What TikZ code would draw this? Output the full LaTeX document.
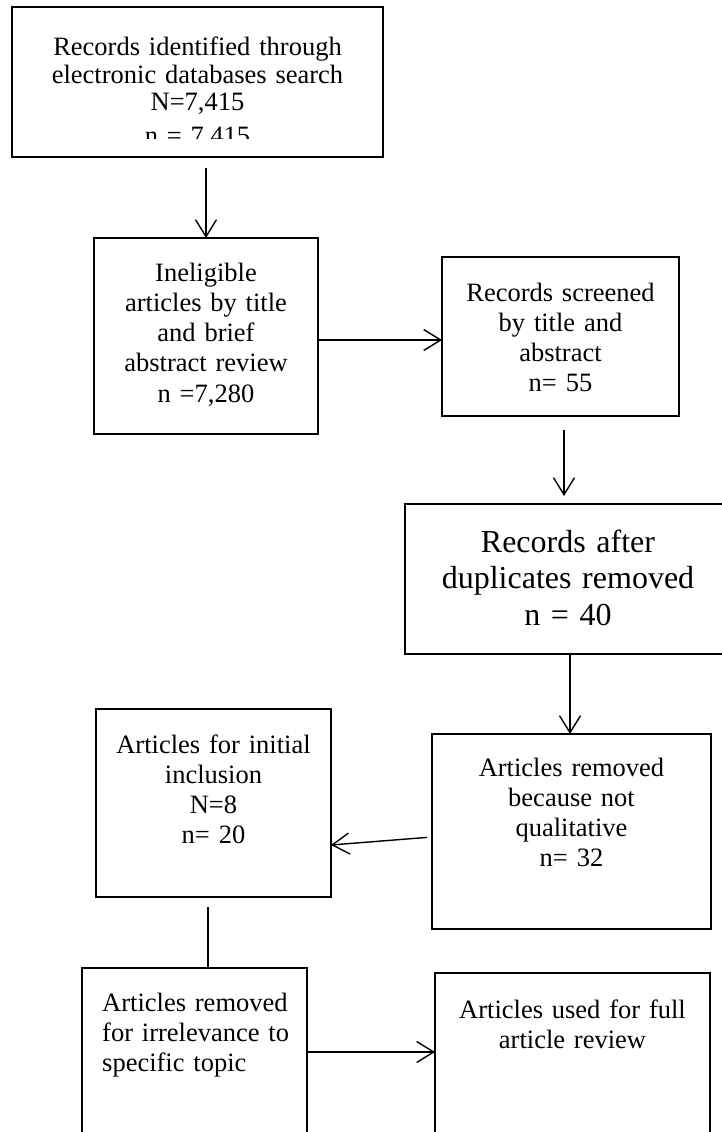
\documentclass[tikz,border=0pt]{standalone}
\usepackage{fontspec}
\setmainfont{Liberation Serif}
\usetikzlibrary{arrows.meta}

\tikzset{
  box/.style={draw, line width=1.8pt, inner sep=0pt, outer sep=0pt},
  txt/.style={font=\fontsize{26.5}{30.3}\selectfont, align=center, inner sep=0pt, anchor=base},
  arr/.style={line width=1.4pt, -{Straight Barb[length=17pt, width=21pt]}},
}

\begin{document}
\begin{tikzpicture}[x=1pt, y=-1pt]
  \useasboundingbox (0,0) rectangle (722,1132);
  \clip (0,0) rectangle (722,1132);
  % boxes
  \node[box, minimum width=371pt, minimum height=150pt] (recs) at (197.5,82) {};
  \node[box, minimum width=224pt, minimum height=196pt] (inelig) at (206,336) {};
  \node[box, minimum width=237pt, minimum height=159pt] (screen) at (560.5,336.5) {};
  \node[box, minimum width=326pt, minimum height=150pt] (dupl) at (568,579) {};
  \node[box, minimum width=279pt, minimum height=195pt] (qual) at (571.5,831.5) {};
  \node[box, minimum width=235pt, minimum height=188pt] (incl) at (213.5,803) {};
  \node[box, minimum width=225pt, minimum height=192pt] (irrel) at (194.5,1064) {};  % runs off the page
  \node[box, minimum width=275pt, minimum height=187pt] (full) at (572.5,1066.5) {};  % runs off the page
  % texts
  \node[txt, text width=350pt, font=\fontsize{26.5}{27.3}\selectfont] (recstxt) at (197.5,56)
    {Records identified through\\electronic databases search\\N=7,415};
  \begin{scope}
    \clip (12,7) rectangle (383,138);  % last line only half shown
    \node[txt, text width=350pt] (recsn) at (197.5,144) {n = 7,415};
  \end{scope}
  \node[txt, text width=215pt] (ineligtxt) at (206,281)
    {Ineligible\\articles by title\\and brief\\abstract review\\n =7,280};
  \node[txt, text width=225pt] (screentxt) at (560.5,301)
    {Records screened\\by title and\\abstract\\n= 55};
  \node[txt, text width=315pt, font=\fontsize{32}{36.5}\selectfont] (dupltxt) at (568,552)
    {Records after\\duplicates removed\\n = 40};
  \node[txt, text width=270pt] (qualtxt) at (571.5,776)
    {Articles removed\\because not\\qualitative\\n= 32};
  \node[txt, text width=225pt] (incltxt) at (213.5,753)
    {Articles for initial\\inclusion\\N=8\\n= 20};
  \node[txt, text width=200pt, align=left, anchor=base west] (irreltxt) at (102,1011)
    {Articles removed\\for irrelevance to\\specific topic};
  \node[txt, text width=265pt] (fulltxt) at (572.5,1018)
    {Articles used for full\\article review};
  % connectors
  \draw[arr, shorten <=11pt] (recs.south -| inelig.north) -- (inelig.north);
  \draw[arr] ([yshift=-4pt]inelig.east) -- ([yshift=-4pt]inelig.east -| screen.west);
  \draw[arr, shorten <=14pt, shorten >=8pt] ([xshift=3.5pt]screen.south) -- ([xshift=3.5pt]screen.south |- dupl.north);
  \draw[arr] ([xshift=2pt]dupl.south) -- ([xshift=2pt]dupl.south |- qual.north);
  \draw[arr, shorten <=5pt] ([yshift=-5.5pt]qual.west) -- ([yshift=-42pt]incl.east);
  \draw[line width=1.4pt, shorten <=10pt] ([xshift=-5.5pt]incl.south) -- ([xshift=-5.5pt]incl.south |- irrel.north);
  \draw[arr] ([yshift=12pt]irrel.east) -- ([yshift=12pt]irrel.east -| full.west);
\end{tikzpicture}
\end{document}
